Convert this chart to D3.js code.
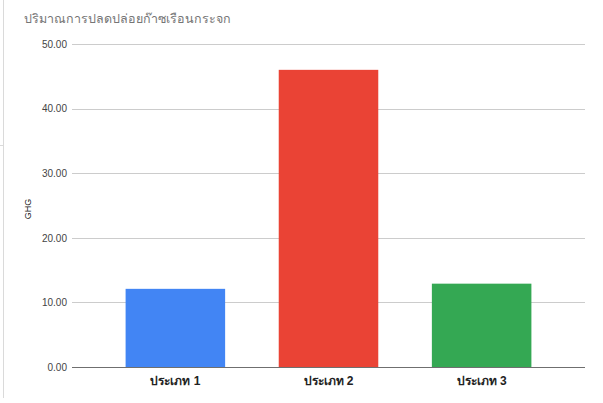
<!DOCTYPE html>
<html>
<head>
<meta charset="utf-8">
<script src="https://cdn.jsdelivr.net/npm/d3@7"></script>
<style>
  body { margin: 0; background: #fff; }
  .axis text { font-family: Arial, "Liberation Sans", sans-serif; }
</style>
</head>
<body>
<div class="chartdiv"></div>
<script>
// data
var categories = ["ประเภท 1", "ประเภท 2", "ประเภท 3"];
var ghgValues = [12.1, 46.0, 12.9];
var barColors = ["#4285f4", "#ea4335", "#34a853"];
var yTicks = [0, 10, 20, 30, 40, 50];
var titleText = "ปริมาณการปลดปล่อยก๊าซเรือนกระจก";
var yLabel = "GHG";

var W = 603, H = 403;
var margin = {top: 44, right: 18, bottom: 36, left: 72};
var width = W - margin.left - margin.right;
var height = H - margin.top - margin.bottom;

var data = categories.map(function(c, i) {
  return {cat: c, value: ghgValues[i], color: barColors[i]};
});

var x = d3.scaleBand()
    .domain(categories)
    .range([0, width])
    .paddingInner(0.35)
    .paddingOuter(0.35);

var y = d3.scaleLinear()
    .domain([0, 50])
    .range([height, 0]);

var root = d3.select(".chartdiv")
  .append("svg")
    .attr("width", W)
    .attr("height", H);

// frame edge on the left, like the sheet it came from
root.append("line")
    .attr("x1", 3.5).attr("x2", 3.5)
    .attr("y1", 0).attr("y2", 398)
    .attr("stroke", "#dadada");
root.append("line")
    .attr("x1", 0).attr("x2", 3)
    .attr("y1", 145.5).attr("y2", 145.5)
    .attr("stroke", "#dadada");

root.append("text")
    .attr("x", 24)
    .attr("y", 23)
    .attr("fill", "#757575")
    .style("font-family", "Roboto, Arial, sans-serif")
    .style("font-size", "12.5px")
    .text(titleText);

var svg = root.append("g")
    .attr("transform", "translate(" + margin.left + "," + margin.top + ")");

// gridlines
svg.append("g")
    .selectAll("line")
    .data(yTicks.filter(function(d) { return d > 0; }))
  .enter().append("line")
    .attr("x1", 0)
    .attr("x2", width)
    .attr("y1", function(d) { return Math.round(y(d)) + 0.5; })
    .attr("y2", function(d) { return Math.round(y(d)) + 0.5; })
    .attr("stroke", "#cccccc");

// y axis labels
var yAxis = d3.axisLeft(y)
    .tickValues(yTicks)
    .tickSize(0)
    .tickPadding(5)
    .tickFormat(d3.format(".2f"));

svg.append("g")
    .classed("axis", true)
    .call(yAxis)
    .call(function(g) { g.select(".domain").remove(); })
  .selectAll("text")
    .attr("fill", "#444")
    .style("font-size", "10px");

svg.append("text")
    .attr("transform", "translate(" + (28 - margin.left) + "," + (209 - margin.top) + ") rotate(-90)")
    .attr("text-anchor", "middle")
    .attr("dy", "0.35em")
    .attr("fill", "#222")
    .style("font-family", "Arial, sans-serif")
    .style("font-size", "9px")
    .text(yLabel);

// bars
svg.selectAll(".bar")
    .data(data)
  .enter().append("rect")
    .classed("bar", true)
    .attr("x", function(d) { return x(d.cat); })
    .attr("width", x.bandwidth())
    .attr("y", function(d) { return y(d.value); })
    .attr("height", function(d) { return height - y(d.value); })
    .attr("fill", function(d) { return d.color; });

// baseline
svg.append("line")
    .attr("x1", 0)
    .attr("x2", width)
    .attr("y1", height + 0.5)
    .attr("y2", height + 0.5)
    .attr("stroke", "#6f6f6f")
    .attr("stroke-width", 1);

// x axis labels
var xAxis = d3.axisBottom(x)
    .tickSize(0)
    .tickPadding(9);

svg.append("g")
    .classed("axis", true)
    .attr("transform", "translate(0," + height + ")")
    .call(xAxis)
    .call(function(g) { g.select(".domain").remove(); })
  .selectAll("text")
    .attr("fill", "#222")
    .style("font-size", "12px")
    .style("font-weight", "bold");
</script>
</body>
</html>
